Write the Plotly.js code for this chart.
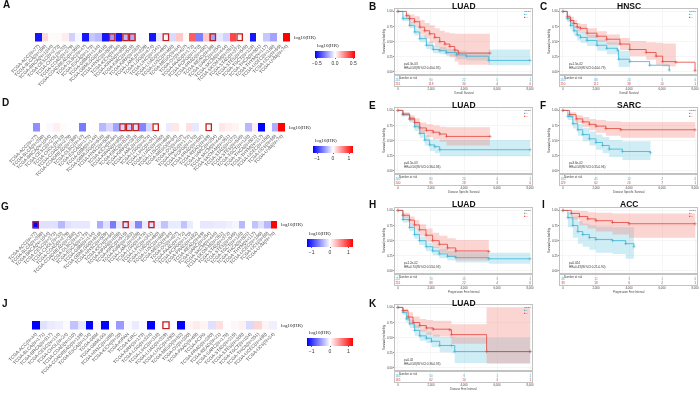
<!DOCTYPE html>
<html><head><meta charset="utf-8">
<script src="https://cdn.plot.ly/plotly-3.0.1.min.js"></script>
<style>html,body{margin:0;padding:0;background:#fff}#chart{width:700px;height:393px}
.main-svg{will-change:transform;opacity:0.999}</style>
</head><body><div id="chart"></div>
<script>
// ---------------- DATA ----------------
const cancers = ['ACC','BLCA','BRCA','CESC','CHOL','COAD','COADREAD','DLBC','ESCA','GBM','GBMLGG','HNSC','KICH','KIPAN','KIRC','KIRP','LAML','LGG','LIHC','LUAD','LUSC','MESO','OV','PAAD','PCPG','PRAD','READ','SARC','SKCM','SKCM-M','STAD','STES','TGCT','THCA','THYM','UCEC','UCS','UVM'];
const cancerN = [77,398,1044,273,33,279,368,47,173,144,616,509,64,855,515,283,209,474,341,490,468,84,407,172,170,492,89,254,444,351,372,545,128,501,117,166,55,74];
const cancersJ = ['ACC','BLCA','BRCA','CESC','CHOL','COAD','COADREAD','ESCA','GBM','GBMLGG','HNSC','KICH','KIPAN','KIRC','KIRP','LGG','LIHC','LUAD','LUSC','MESO','OV','PAAD','PCPG','PRAD','READ','SARC','STAD','STES','TGCT','THCA','UCEC','UCS'];
const cancerNJ = [44,171,917,114,24,110,139,134,null,null,265,20,null,null,173,324,318,329,290,52,200,69,null,280,21,175,215,308,104,351,498,24];

const zA = [-0.5,0.08,0.01,0.01,0.04,-0.1,-0.02,-0.5,-0.12,-0.15,-0.5,-0.22,-0.5,-0.15,-0.18,-0.01,0.0,-0.5,-0.05,0.02,-0.08,0.12,0.01,0.35,-0.28,0.12,-0.2,-0.05,-0.1,0.4,0.03,0.02,-0.5,0.0,-0.12,-0.2,0.01,0.55];
const sigA = ['HNSC','KIPAN','KIRC','LUAD','READ','STAD'];
const zD = [-0.55,0.0,-0.03,0.08,0.02,0.01,0.0,-0.65,0.0,0.01,-0.35,-0.2,-0.45,-0.2,-0.25,-0.15,-0.6,-0.2,0.02,0.0,-0.1,0.12,0.0,0.15,-0.12,0.0,0.02,0.0,0.12,0.08,0.06,0.0,-0.35,0.08,-1.25,0.0,-0.4,1.25];
const sigD = ['KIPAN','KIRC','KIRP','LIHC','READ'];
const zG = [-1.25,-0.15,-0.15,-0.15,-0.35,-0.15,-0.12,-0.12,-0.12,0.0,-0.4,-0.15,-0.65,-0.12,-0.15,-0.12,-0.6,-0.1,-0.15,-0.08,-0.3,-0.1,-0.1,-0.3,-0.1,0.0,-0.12,-0.12,-0.1,-0.1,-0.08,-0.05,-0.35,0.0,-0.3,-0.15,-0.35,1.25];
const sigG = ['ACC','KIRC','LIHC'];
const zJ = [-1.25,-0.15,-0.1,-0.08,-0.02,-0.3,-0.12,-1.25,0.05,-1.25,0.0,-0.5,-0.03,-0.1,-0.02,-1.25,0.0,0.02,0.0,-1.25,0.05,0.1,0.06,-0.15,0.15,0.01,0.04,0.07,-0.18,0.2,0.06,-0.08];
const sigJ = ['LUAD'];

const riskTimes = [0,2000,4000,6000,8000];
const riskLabels = ['0','2,000','4,000','6,000','8,000'];

// B  LUAD
const B_blueT=[0,300,710,1010,1320,1720,2130,2530,2940,3540,4150,5500,8000];
const B_blueS=[1,0.88,0.77,0.66,0.55,0.44,0.37,0.35,0.32,0.28,0.26,0.19,0.19];
const B_blueHi=[1,0.92,0.82,0.72,0.61,0.50,0.43,0.41,0.38,0.35,0.33,0.37,0.37];
const B_blueLo=[1,0.84,0.72,0.60,0.49,0.38,0.31,0.29,0.26,0.21,0.19,0.11,0.11];
const B_redT=[0,510,710,1010,1320,1620,1920,2230,2530,2840,3140,3440,3650,5570];
const B_redS=[1,0.93,0.88,0.83,0.74,0.68,0.63,0.57,0.50,0.46,0.42,0.36,0.31,0.31];
const B_redHi=[1,0.97,0.95,0.92,0.86,0.81,0.77,0.72,0.68,0.65,0.64,0.63,0.63,0.63];
const B_redLo=[1,0.88,0.80,0.73,0.62,0.55,0.48,0.42,0.34,0.29,0.24,0.17,0.12,0.12];
const B_riskBlue=[251,90,22,5,1], B_riskRed=[251,118,30,4,0];
// C  HNSC
const C_blueT=[0,260,460,660,860,1060,1460,2060,2650,3300,3370,4050,5250,6440];
const C_blueS=[1,0.88,0.77,0.68,0.61,0.57,0.52,0.44,0.39,0.36,0.21,0.17,0.11,0.03];
const C_blueHi=[1,0.93,0.84,0.76,0.70,0.66,0.61,0.53,0.49,0.47,0.35,0.17,0.11,0.03];
const C_blueLo=[1,0.82,0.70,0.60,0.52,0.48,0.43,0.35,0.29,0.26,0.08,0.17,0.11,0.03];
const C_redT=[0,260,460,660,860,1060,1460,2060,2650,3450,4050,5040,5640,6040,6840,8000];
const C_redS=[1,0.91,0.85,0.80,0.74,0.72,0.64,0.59,0.54,0.46,0.37,0.32,0.26,0.17,0.16,0.02];
const C_redHi=[1,0.95,0.91,0.86,0.81,0.79,0.72,0.67,0.62,0.56,0.51,0.49,0.48,0.47,0.16,0.02];
const C_redLo=[1,0.87,0.79,0.73,0.67,0.65,0.56,0.50,0.45,0.36,0.26,0.20,0.12,0.09,0.16,0.02];
const C_riskBlue=[250,88,24,5,0], C_riskRed=[250,112,38,10,1];
// E  LUAD
const E_blueT=[0,300,710,1010,1320,1620,1920,2230,2530,8000];
const E_blueS=[1,0.93,0.85,0.73,0.62,0.51,0.43,0.40,0.35,0.35];
const E_blueHi=[1,0.96,0.89,0.79,0.69,0.59,0.52,0.51,0.51,0.51];
const E_blueLo=[1,0.90,0.80,0.66,0.55,0.42,0.33,0.29,0.24,0.24];
const E_redT=[0,300,710,1010,1320,1720,2130,2530,2940,5570];
const E_redS=[1,0.94,0.87,0.80,0.71,0.67,0.64,0.61,0.57,0.57];
const E_redHi=[1,0.97,0.92,0.87,0.80,0.77,0.75,0.73,0.72,0.72];
const E_redLo=[1,0.91,0.82,0.73,0.62,0.56,0.52,0.48,0.42,0.42];
const E_riskBlue=[240,80,20,4,1], E_riskRed=[240,95,28,3,0];
// F  SARC
const F_blueT=[0,300,600,900,1200,1600,2000,2400,2800,3600,5300];
const F_blueS=[1,0.90,0.78,0.68,0.60,0.53,0.47,0.42,0.36,0.32,0.30];
const F_blueHi=[1,0.95,0.86,0.78,0.71,0.65,0.60,0.56,0.51,0.49,0.48];
const F_blueLo=[1,0.84,0.70,0.58,0.49,0.42,0.35,0.29,0.23,0.18,0.16];
const F_redT=[0,400,800,1200,1600,2000,2600,3500,8000];
const F_redS=[1,0.93,0.86,0.81,0.77,0.74,0.70,0.68,0.68];
const F_redHi=[1,0.97,0.92,0.89,0.86,0.84,0.82,0.81,0.81];
const F_redLo=[1,0.88,0.79,0.72,0.67,0.63,0.58,0.55,0.55];
const F_riskBlue=[130,45,12,2,0], F_riskRed=[129,62,20,7,1];
// H  LUAD
const H_blueT=[0,300,700,1000,1300,1700,2100,2500,3000,3500,5500,8000];
const H_blueS=[1,0.85,0.72,0.60,0.50,0.40,0.33,0.28,0.24,0.22,0.20,0.20];
const H_blueHi=[1,0.90,0.78,0.67,0.57,0.47,0.40,0.36,0.33,0.31,0.30,0.30];
const H_blueLo=[1,0.80,0.66,0.53,0.43,0.33,0.26,0.21,0.17,0.14,0.12,0.12];
const H_redT=[0,300,700,1000,1300,1700,2100,2500,3000,3500,5500];
const H_redS=[1,0.92,0.84,0.76,0.68,0.59,0.50,0.44,0.38,0.33,0.32];
const H_redHi=[1,0.96,0.90,0.84,0.77,0.70,0.63,0.58,0.54,0.51,0.51];
const H_redLo=[1,0.88,0.77,0.68,0.58,0.48,0.38,0.30,0.23,0.17,0.16];
const H_riskBlue=[251,70,15,3,1], H_riskRed=[251,88,22,4,0];
// I  ACC
const I_blueT=[0,300,600,900,1200,1600,2000,3000,3800,4300];
const I_blueS=[1,0.88,0.75,0.65,0.60,0.55,0.52,0.50,0.45,0.40];
const I_blueHi=[1,0.97,0.90,0.82,0.78,0.75,0.73,0.72,0.72,0.72];
const I_blueLo=[1,0.72,0.55,0.45,0.40,0.35,0.30,0.28,0.20,0.20];
const I_redT=[0,500,1000,1500,2000,3000,4000,8000];
const I_redS=[1,0.95,0.90,0.86,0.83,0.80,0.78,0.78];
const I_redHi=[1,1,0.99,0.97,0.96,0.95,0.95,0.95];
const I_redLo=[1,0.85,0.76,0.70,0.65,0.60,0.55,0.55];
const I_riskBlue=[38,12,3,1,0], I_riskRed=[38,18,6,2,1];
// K  LUAD
const K_blueT=[0,300,510,710,1010,1320,1720,2030,2530,3240,3440,8000];
const K_blueS=[1,0.92,0.81,0.73,0.62,0.53,0.49,0.44,0.37,0.37,0.27,0.27];
const K_blueHi=[1,0.95,0.86,0.79,0.70,0.63,0.59,0.55,0.51,0.51,0.50,0.50];
const K_blueLo=[1,0.88,0.75,0.66,0.53,0.45,0.41,0.34,0.26,0.24,0.08,0.08];
const K_redT=[0,300,610,910,1320,1720,2130,3140,3240,5370,8000];
const K_redS=[1,0.95,0.84,0.75,0.70,0.66,0.64,0.63,0.55,0.27,0.27];
const K_redHi=[1,0.98,0.92,0.85,0.81,0.79,0.78,0.78,0.72,1.0,1.0];
const K_redLo=[1,0.91,0.77,0.66,0.60,0.55,0.52,0.50,0.40,0.07,0.07];
const K_riskBlue=[165,50,9,1,1], K_riskRed=[165,62,14,3,1];

// ---------------- BUILD ----------------
const W=700,H=393;
const dx=(a,b)=>[a/W,b/W];
const dy=(t,b)=>[1-b/H,1-t/H];
const px=v=>v/W, py=v=>1-v/H;
const traces=[], shapes=[], annotations=[];
const layout={width:W,height:H,margin:{l:0,r:0,t:0,b:0},paper_bgcolor:'#fff',plot_bgcolor:'#fff',showlegend:false,font:{family:'Arial, Liberation Sans, sans-serif',color:'#222'}};
const cscale=[[0,'#0000ff'],[0.5,'#ffffff'],[1,'#ff0000']];
const serif='Liberation Serif, Times New Roman, serif';

function heat(k, cats, ns, z, sig, zr, tv, tt, box, cb){
  const a = k===1?'':String(k);
  const labels = cats.map((c,i)=>'TCGA-'+c+(ns[i]?'(N='+ns[i]+')':''));
  traces.push({type:'heatmap',x:cats,y:['HR'],z:[z],xaxis:'x'+a,yaxis:'y'+a,zmin:-zr,zmax:zr,colorscale:cscale,hoverinfo:'skip',
    colorbar:{orientation:'h',lenmode:'pixels',len:cb.x1-cb.x0,thickness:cb.th,x:px(cb.x0),xanchor:'left',y:py(cb.y),yanchor:'top',
      xpad:0,ypad:0,outlinewidth:0,tickvals:tv,ticktext:tt,ticks:'outside',ticklen:1.5,tickcolor:'#666',tickfont:{size:5,color:'#333'},
      title:{text:''}}});
  layout['xaxis'+a]={domain:dx(box.x0,box.x1),anchor:'y'+a,type:'category',tickmode:'array',tickvals:cats,ticktext:labels,tickangle:-45,
    tickfont:{size:4.6,color:'#555',family:'Arial'},showgrid:false,zeroline:false,showline:false,ticks:'',range:[-0.5,cats.length-0.5]};
  layout['yaxis'+a]={domain:dy(box.y0,box.y1),anchor:'x'+a,visible:false,showticklabels:false,showgrid:false,zeroline:false,range:[-0.5,0.5]};
  sig.forEach(name=>{const i=cats.indexOf(name);
    shapes.push({type:'rect',xref:'x'+a,yref:'y'+a,x0:i-0.4,x1:i+0.4,y0:-0.4,y1:0.4,line:{color:'#c41e1e',width:1.3}});});
  annotations.push({xref:'paper',yref:'paper',x:px(box.x1+2),y:py((box.y0+box.y1)/2),xanchor:'left',yanchor:'middle',showarrow:false,
    text:'log10(HR)',font:{size:5,family:serif,color:'#222'}});
  annotations.push({xref:'paper',yref:'paper',x:px(cb.x0),y:py(cb.y-1),xanchor:'left',yanchor:'bottom',showarrow:false,
    text:'log10(HR)',font:{size:5,family:serif,color:'#222'}});
  annotations.push({xref:'paper',yref:'paper',x:px(box.lx),y:py(box.ly),xanchor:'center',yanchor:'middle',showarrow:false,
    text:'<b>'+box.letter+'</b>',font:{size:10,color:'#111'}});
}

heat(1,cancers,cancerN,zA,sigA,0.55,[-0.5,0,0.5],['−0.5','0.0','0.5'],{x0:35,x1:290,y0:33,y1:41.5,letter:'A',lx:6,ly:5},{x0:315,x1:355,y:51,th:7});
heat(2,cancers,cancerN,zD,sigD,1.25,[-1,0,1],['−1','0','1'],{x0:33,x1:285,y0:123,y1:131.5,letter:'D',lx:5,ly:103},{x0:313,x1:353,y:146,th:7});
heat(3,cancers,cancerN,zG,sigG,1.25,[-1,0,1],['−1','0','1'],{x0:32.3,x1:277,y0:221,y1:228.5,letter:'G',lx:5,ly:206},{x0:307,x1:353,y:239,th:8});
heat(4,cancersJ,cancerNJ,zJ,sigJ,1.25,[-1,0,1],['−1','0','1'],{x0:32,x1:277,y0:321,y1:329.5,letter:'J',lx:5,ly:303},{x0:307,x1:353,y:338,th:8});

const blueLine='#38b2d6', redLine='#e4443b', blueFill='rgba(110,200,226,0.33)', redFill='rgba(244,128,118,0.33)';
const tRange=[-180,8120];

function km(n,p){
  const xm='x'+n, ym='y'+n, xr='x'+(n+1), yr='y'+(n+1);
  const band=(T,Hi,Lo,fc)=>{
    traces.push({x:T,y:Hi,mode:'lines',line:{width:0,shape:'hv'},xaxis:xm,yaxis:ym,hoverinfo:'skip'});
    traces.push({x:T,y:Lo,mode:'lines',line:{width:0,shape:'hv'},fill:'tonexty',fillcolor:fc,xaxis:xm,yaxis:ym,hoverinfo:'skip'});
  };
  band(p.bT,p.bHi,p.bLo,blueFill);
  band(p.rT,p.rHi,p.rLo,redFill);
  const line=(T,S,c)=>traces.push({x:T,y:S,mode:'lines+markers',line:{color:c,width:0.8,shape:'hv'},
    marker:{symbol:'cross-thin',size:2.5,line:{width:0.5,color:c}},xaxis:xm,yaxis:ym,hoverinfo:'skip'});
  line(p.bT,p.bS,blueLine); line(p.rT,p.rS,redLine);
  traces.push({x:riskTimes,y:riskTimes.map(()=>1.7),text:p.riskB.map(String),mode:'text',textfont:{size:3,color:blueLine},xaxis:xr,yaxis:yr,hoverinfo:'skip'});
  traces.push({x:riskTimes,y:riskTimes.map(()=>0.6),text:p.riskR.map(String),mode:'text',textfont:{size:3,color:redLine},xaxis:xr,yaxis:yr,hoverinfo:'skip'});
  const frame={showline:true,mirror:true,linecolor:'#9a9a9a',linewidth:0.6,zeroline:false};
  layout['xaxis'+n]=Object.assign({domain:dx(p.x0,p.x1),anchor:ym,range:tRange,tickvals:riskTimes,showticklabels:false,ticks:'',showgrid:true,gridcolor:'#eeeeee',gridwidth:0.5},frame);
  layout['yaxis'+n]=Object.assign({domain:dy(p.top,p.bottom),anchor:xm,range:[-0.035,1.04],tickvals:[0,0.25,0.5,0.75,1],ticktext:['0.00','0.25','0.50','0.75','1.00'],
    tickfont:{size:3,color:'#444'},ticks:'outside',ticklen:1,tickcolor:'#999',showgrid:true,gridcolor:'#eeeeee',gridwidth:0.5,
    title:{text:'Survival probability',font:{size:3,color:'#444'},standoff:1}},frame);
  layout['xaxis'+(n+1)]=Object.assign({domain:dx(p.x0,p.x1),anchor:yr,range:tRange,tickvals:riskTimes,ticktext:riskLabels,tickfont:{size:2.8,color:'#444'},
    ticks:'outside',ticklen:0.5,tickcolor:'#999',showgrid:true,gridcolor:'#e4e4e4',gridwidth:0.5},frame);
  layout['yaxis'+(n+1)]=Object.assign({domain:dy(p.rTop,p.rBottom),anchor:xr,range:[0,3],showticklabels:false,showgrid:false,ticks:''},frame);
  const A=(x,y,t,o)=>annotations.push(Object.assign({xref:'paper',yref:'paper',x:px(x),y:py(y),text:t,showarrow:false,xanchor:'left',yanchor:'middle',font:{size:3,color:'#333'}},o||{}));
  A(p.lx,p.ly,'<b>'+p.letter+'</b>',{xanchor:'center',font:{size:10,color:'#111'}});
  A((p.x0+p.x1)/2,p.ly,'<b>'+p.title+'</b>',{xanchor:'center',font:{size:8.5,color:'#111'}});
  A(p.x0+7,p.bottom-10,p.pTxt);
  A(p.x0+7,p.bottom-6.5,p.hrTxt);
  A(p.x1-10,p.top+2.5,'Strata',{font:{size:2.5,color:'#555'}});
  A(p.x1-10,p.top+5.5,'■ L',{font:{size:2.5,color:blueLine}});
  A(p.x1-10,p.top+8.5,'■ H',{font:{size:2.5,color:redLine}});
  A(p.x0+2,p.rTop+2.2,'Number at risk',{font:{size:2.8,color:'#444'}});
  A((p.x0+p.x1)/2,p.rBottom+7,p.xTitle,{xanchor:'center',font:{size:2.8,color:'#444'}});
}

const colL={x0:395,x1:532,lx:373}, colR={x0:560,x1:697,lx:543};
const rows=[{top:9,bottom:74,rTop:76,rBottom:86,ly:6},{top:108,bottom:173,rTop:175,rBottom:185,ly:105},
            {top:208,bottom:273,rTop:275,rBottom:285,ly:204},{top:305,bottom:370,rTop:372,rBottom:382,ly:303}];
const P=(col,row,o)=>Object.assign({},col,row,o);
km(5, P(colL,rows[0],{letter:'B',title:'LUAD',xTitle:'Overall Survival',pTxt:'p=6.3e-03',hrTxt:'HR=0.58(95%CI:0.40-0.85)',
  bT:B_blueT,bS:B_blueS,bHi:B_blueHi,bLo:B_blueLo,rT:B_redT,rS:B_redS,rHi:B_redHi,rLo:B_redLo,riskB:B_riskBlue,riskR:B_riskRed}));
km(7, P(colR,rows[0],{letter:'C',title:'HNSC',xTitle:'Overall Survival',pTxt:'p=1.5e-02',hrTxt:'HR=0.59(95%CI:0.44-0.79)',
  bT:C_blueT,bS:C_blueS,bHi:C_blueHi,bLo:C_blueLo,rT:C_redT,rS:C_redS,rHi:C_redHi,rLo:C_redLo,riskB:C_riskBlue,riskR:C_riskRed}));
km(9, P(colL,rows[1],{letter:'E',title:'LUAD',xTitle:'Disease Specific Survival',pTxt:'p=6.5e-03',hrTxt:'HR=0.56(95%CI:0.36-0.86)',
  bT:E_blueT,bS:E_blueS,bHi:E_blueHi,bLo:E_blueLo,rT:E_redT,rS:E_redS,rHi:E_redHi,rLo:E_redLo,riskB:E_riskBlue,riskR:E_riskRed}));
km(11, P(colR,rows[1],{letter:'F',title:'SARC',xTitle:'Disease Specific Survival',pTxt:'p=3.6e-02',hrTxt:'HR=0.58(95%CI:0.35-0.96)',
  bT:F_blueT,bS:F_blueS,bHi:F_blueHi,bLo:F_blueLo,rT:F_redT,rS:F_redS,rHi:F_redHi,rLo:F_redLo,riskB:F_riskBlue,riskR:F_riskRed}));
km(13, P(colL,rows[2],{letter:'H',title:'LUAD',xTitle:'Progression Free Interval',pTxt:'p=1.2e-02',hrTxt:'HR=0.70(95%CI:0.53-0.93)',
  bT:H_blueT,bS:H_blueS,bHi:H_blueHi,bLo:H_blueLo,rT:H_redT,rS:H_redS,rHi:H_redHi,rLo:H_redLo,riskB:H_riskBlue,riskR:H_riskRed}));
km(15, P(colR,rows[2],{letter:'I',title:'ACC',xTitle:'Progression Free Interval',pTxt:'p=0.024',hrTxt:'HR=0.43(95%CI:0.21-0.90)',
  bT:I_blueT,bS:I_blueS,bHi:I_blueHi,bLo:I_blueLo,rT:I_redT,rS:I_redS,rHi:I_redHi,rLo:I_redLo,riskB:I_riskBlue,riskR:I_riskRed}));
km(17, P(colL,rows[3],{letter:'K',title:'LUAD',xTitle:'Disease Free Interval',pTxt:'p=0.02',hrTxt:'HR=0.58(95%CI:0.36-0.93)',
  bT:K_blueT,bS:K_blueS,bHi:K_blueHi,bLo:K_blueLo,rT:K_redT,rS:K_redS,rHi:K_redHi,rLo:K_redLo,riskB:K_riskBlue,riskR:K_riskRed}));

layout.shapes=shapes; layout.annotations=annotations;
Plotly.newPlot('chart',traces,layout,{staticPlot:true,displayModeBar:false});
</script></body></html>
